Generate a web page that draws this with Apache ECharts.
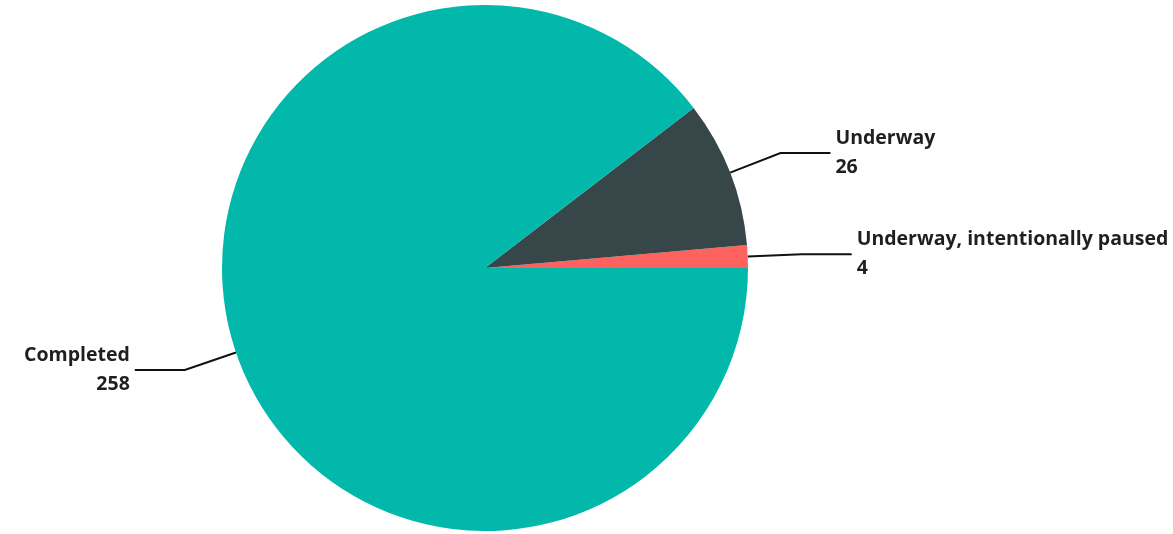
<!DOCTYPE html>
<html>
<head>
<meta charset="utf-8">
<script src="https://cdn.jsdelivr.net/npm/echarts@6/dist/echarts.min.js"></script>
<style>
html,body{margin:0;padding:0;background:#fff;}
#chart{width:1173px;height:534px;}
</style>
</head>
<body>
<div id="chart"></div>
<script>
const categories = ["Underway, intentionally paused", "Underway", "Completed"];
const values = [4, 26, 258];
const colors = ["#FD625E", "#374649", "#01B8AA"];

const chart = echarts.init(document.getElementById('chart'), null, {renderer: 'canvas'});
chart.setOption({
  animation: false,
  backgroundColor: '#ffffff',
  series: [{
    type: 'pie',
    center: [485, 268],
    radius: 263,
    startAngle: 0,
    clockwise: false,
    avoidLabelOverlap: false,
    data: categories.map((c, i) => ({name: c, value: values[i], itemStyle: {color: colors[i]}})),
    label: {
      show: true,
      position: 'outside',
      formatter: '{b}\n{c}',
      fontFamily: 'Open Sans',
      fontWeight: 'bold',
      fontSize: 19.5,
      lineHeight: 29,
      color: '#1f1f1f',
      distanceToLabelLine: 5
    },
    labelLine: {
      show: true,
      length: 54,
      length2: 50,
      smooth: false,
      lineStyle: {color: '#111111', width: 2}
    },
    emphasis: {disabled: true}
  }]
});
</script>
</body>
</html>
